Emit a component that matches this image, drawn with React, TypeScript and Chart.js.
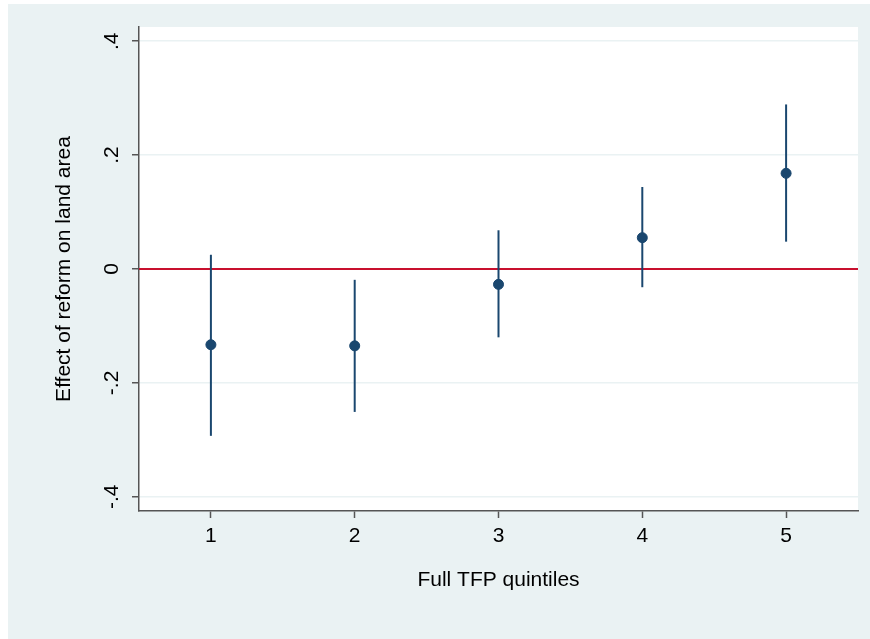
import { useEffect, useRef } from 'react';
import { Chart, registerables } from 'chart.js';

Chart.register(...registerables);

const quintiles = [1, 2, 3, 4, 5];
const estimates = [-0.133, -0.135, -0.027, 0.055, 0.168];
const lowerCI = [-0.293, -0.251, -0.120, -0.032, 0.048];
const upperCI = [0.025, -0.019, 0.068, 0.144, 0.289];
const yTickValues = [-0.4, -0.2, 0, 0.2, 0.4];
const yTickLabels = ['-.4', '-.2', '0', '.2', '.4'];

const navy = '#1A476F';
const font = 'Liberation Sans, Arial, sans-serif';

// draws the confidence intervals just before the points
const ciPlugin = {
    id: 'ciBars',
    beforeDatasetDraw(chart, args) {
        if (args.index !== 0) return;
        const { ctx, scales } = chart;
        ctx.save();
        ctx.strokeStyle = navy;
        ctx.lineWidth = 2;
        quintiles.forEach((q, i) => {
            const x = scales.x.getPixelForValue(q);
            ctx.beginPath();
            ctx.moveTo(x, scales.y.getPixelForValue(lowerCI[i]));
            ctx.lineTo(x, scales.y.getPixelForValue(upperCI[i]));
            ctx.stroke();
        });
        ctx.restore();
    }
};

const bgPlugin = {
    id: 'bg',
    beforeDraw(chart) {
        const { ctx, chartArea } = chart;
        ctx.save();
        ctx.fillStyle = '#EAF2F3';
        ctx.fillRect(0, 0, chart.width, chart.height);
        ctx.fillStyle = '#ffffff';
        ctx.fillRect(chartArea.left, chartArea.top, chartArea.right - chartArea.left, chartArea.bottom - chartArea.top);
        ctx.restore();
    }
};

const App = () => {
    const chartRef = useRef(null);

    useEffect(() => {
        const ctx = chartRef.current.getContext('2d');
        const myChart = new Chart(ctx, {
            type: 'scatter',
            data: {
                datasets: [
                    {
                        data: quintiles.map((q, i) => ({ x: q, y: estimates[i] })),
                        backgroundColor: navy,
                        borderColor: navy,
                        pointRadius: 5,
                        order: 1
                    },
                    {
                        type: 'line',
                        data: [{ x: 0.5, y: 0 }, { x: 5.5, y: 0 }],
                        borderColor: '#C8102E',
                        borderWidth: 2,
                        pointRadius: 0,
                        order: 2
                    }
                ]
            },
            options: {
                animation: false,
                responsive: true,
                maintainAspectRatio: false,
                layout: { padding: { top: 23, right: 12, left: 0, bottom: 0 } },
                plugins: {
                    legend: { display: false },
                    tooltip: { enabled: false }
                },
                scales: {
                    x: {
                        type: 'linear',
                        min: 0.5,
                        max: 5.5,
                        afterBuildTicks: (axis) => {
                            axis.ticks = quintiles.map((v) => ({ value: v }));
                        },
                        afterFit: (axis) => {
                            axis.height = 128;
                        },
                        grid: {
                            drawOnChartArea: false,
                            drawTicks: true,
                            tickLength: 7,
                            tickColor: '#555555',
                            tickWidth: 1.5
                        },
                        border: { color: '#555555', width: 1.5 },
                        ticks: {
                            padding: 6,
                            color: '#000000',
                            font: { family: font, size: 21 }
                        },
                        title: {
                            display: true,
                            text: 'Full TFP quintiles',
                            color: '#000000',
                            font: { family: font, size: 21 },
                            padding: { top: 4, bottom: 46 }
                        }
                    },
                    y: {
                        type: 'linear',
                        min: -0.425,
                        max: 0.425,
                        afterBuildTicks: (axis) => {
                            axis.ticks = yTickValues.map((v) => ({ value: v }));
                        },
                        afterFit: (axis) => {
                            axis.width = 131;
                        },
                        grid: {
                            color: '#EAF2F3',
                            lineWidth: 1.5,
                            drawTicks: true,
                            tickLength: 7,
                            tickColor: '#555555',
                            tickWidth: 1.5
                        },
                        border: { color: '#555555', width: 1.5 },
                        ticks: {
                            minRotation: 90,
                            maxRotation: 90,
                            crossAlign: 'center',
                            padding: 8,
                            color: '#000000',
                            font: { family: font, size: 21 },
                            callback: (value) => yTickLabels[yTickValues.indexOf(value)]
                        },
                        title: {
                            display: true,
                            text: 'Effect of reform on land area',
                            color: '#000000',
                            font: { family: font, size: 21 },
                            padding: { top: 44, bottom: 4 }
                        }
                    }
                }
            },
            plugins: [bgPlugin, ciPlugin]
        });

        return () => {
            myChart.destroy();
        };
    }, []);

    return (
        <div style={{ position: 'fixed', left: 8, top: 4, width: 862, height: 635 }}>
            <canvas ref={chartRef} id="tfp-chart" />
        </div>
    );
};

export default App;
